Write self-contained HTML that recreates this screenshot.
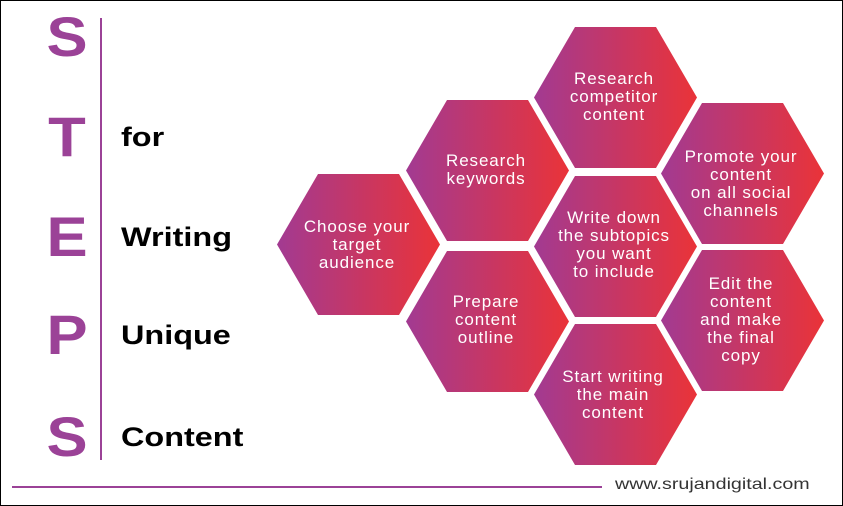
<!DOCTYPE html>
<html><head><style>
html,body{margin:0;padding:0;}
body{width:843px;height:506px;position:relative;background:#fff;font-family:"Liberation Sans",sans-serif;overflow:hidden;}
.frame{position:absolute;left:0;top:0;width:841px;height:504px;border:1px solid #000;}
.L{position:absolute;left:40px;width:54px;text-align:center;font-weight:bold;font-size:56px;color:#9b4297;line-height:54px;transform:scaleX(1.1);}
.W{position:absolute;left:121px;font-weight:bold;font-size:27px;color:#000;line-height:30px;transform:scaleX(1.2);transform-origin:left center;}
</style></head><body>
<div class="frame"></div>
<div class="L" style="top:10px">S</div>
<div class="L" style="top:110px">T</div>
<div class="L" style="top:210px">E</div>
<div class="L" style="top:308px">P</div>
<div class="L" style="top:410px">S</div>
<div style="position:absolute;left:100px;top:18px;width:2px;height:442px;background:#9b4297"></div>
<div class="W" style="top:122px">for</div>
<div class="W" style="top:222px">Writing</div>
<div class="W" style="top:320px">Unique</div>
<div class="W" style="top:422px">Content</div>
<div style="position:absolute;left:12px;top:486px;width:590px;height:2px;background:#9b4297"></div>
<div style="position:absolute;left:615px;top:476px;font-size:16px;color:#333;transform:scaleX(1.23);transform-origin:left center;">www.srujandigital.com</div>
<svg width="843" height="506" style="position:absolute;left:0;top:0" font-family="Liberation Sans, sans-serif" font-size="17" letter-spacing="0.9" fill="#fff" text-anchor="middle">
<defs><linearGradient id="g" x1="0" y1="0" x2="1" y2="0"><stop offset="0" stop-color="#a23a92"/><stop offset="1" stop-color="#ea3338"/></linearGradient>
<polygon id="h" points="0,70.5 41,0 122,0 163,70.5 122,141 41,141" fill="url(#g)"/></defs>
<use href="#h" x="277" y="174"/>
<use href="#h" x="406" y="100"/>
<use href="#h" x="406" y="251"/>
<use href="#h" x="534" y="27"/>
<use href="#h" x="534" y="176"/>
<use href="#h" x="534" y="324"/>
<use href="#h" x="661" y="103"/>
<use href="#h" x="661" y="250"/>
<text x="357" y="232">Choose your</text><text x="357" y="250">target</text><text x="357" y="268">audience</text>
<text x="486" y="166">Research</text><text x="486" y="184">keywords</text>
<text x="486" y="307">Prepare</text><text x="486" y="325">content</text><text x="486" y="343">outline</text>
<text x="614" y="84">Research</text><text x="614" y="102">competitor</text><text x="614" y="120">content</text>
<text x="614" y="223">Write down</text><text x="614" y="241">the subtopics</text><text x="614" y="259">you want</text><text x="614" y="277">to include</text>
<text x="613" y="382">Start writing</text><text x="613" y="400">the main</text><text x="613" y="418">content</text>
<text x="741" y="162">Promote your</text><text x="741" y="180">content</text><text x="741" y="198">on all social</text><text x="741" y="216">channels</text>
<text x="741" y="289">Edit the</text><text x="741" y="307">content</text><text x="741" y="325">and make</text><text x="741" y="343">the final</text><text x="741" y="361">copy</text>
</svg>
</body></html>
